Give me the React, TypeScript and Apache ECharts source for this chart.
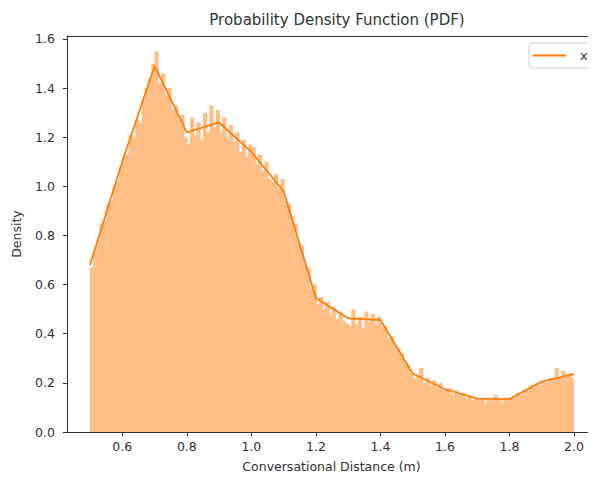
import React, { useEffect, useRef } from "react";
import * as echarts from "echarts";

// Histogram: bins of width 0.01 starting at 0.5 (density per bin)
const binStart = 0.5;
const binWidth = 0.01;
const binDensity = [
  0.67, 0.74, 0.78, 0.85, 0.86, 0.93, 0.94, 1.0, 1.02, 1.08,
  1.12, 1.13, 1.21, 1.2, 1.27, 1.26, 1.35, 1.4, 1.44, 1.5,
  1.55, 1.42, 1.46, 1.37, 1.4, 1.31, 1.33, 1.27, 1.29, 1.2,
  1.17, 1.28, 1.21, 1.26, 1.19, 1.3, 1.22, 1.33, 1.24, 1.31,
  1.22, 1.28, 1.2, 1.25, 1.18, 1.22, 1.14, 1.19, 1.12, 1.17,
  1.16, 1.09, 1.13, 1.06, 1.1, 1.03, 1.02, 1.05, 0.99, 1.03,
  0.94, 0.93, 0.88, 0.85, 0.77, 0.76, 0.68, 0.67, 0.58, 0.6,
  0.52, 0.55, 0.5, 0.53, 0.48, 0.51, 0.46, 0.49, 0.45, 0.44,
  0.43, 0.5, 0.44, 0.47, 0.42, 0.49, 0.45, 0.48, 0.44, 0.47,
  0.43, 0.43, 0.38, 0.39, 0.35, 0.34, 0.32, 0.28, 0.27, 0.24,
  0.22, 0.23, 0.26, 0.2, 0.22, 0.19, 0.21, 0.18, 0.2, 0.17,
  0.17, 0.18, 0.15, 0.17, 0.15, 0.16, 0.14, 0.15, 0.13, 0.14,
  0.13, 0.14, 0.12, 0.14, 0.13, 0.15, 0.13, 0.12, 0.14, 0.13,
  0.14, 0.14, 0.16, 0.15, 0.17, 0.17, 0.19, 0.18, 0.2, 0.19,
  0.21, 0.2, 0.22, 0.21, 0.26, 0.22, 0.25, 0.23, 0.24, 0.22,
];

// PDF line
const pdfX = [0.5, 0.6, 0.7, 0.8, 0.9, 1.0, 1.1, 1.2, 1.3, 1.4, 1.5, 1.6, 1.7, 1.8, 1.9, 2.0];
const pdfY = [0.68, 1.1, 1.49, 1.22, 1.26, 1.14, 0.98, 0.545, 0.463, 0.456, 0.238, 0.174, 0.136, 0.134, 0.205, 0.236];

const xTicks = [0.6, 0.8, 1.0, 1.2, 1.4, 1.6, 1.8, 2.0];
const yTicks = [0.0, 0.2, 0.4, 0.6, 0.8, 1.0, 1.2, 1.4, 1.6];

const FONT = "DejaVu Sans";
const TXT = "#333";
const X_MIN = 0.4287;
const X_MAX = 2.068;

export default function App() {
  const ref = useRef<HTMLDivElement>(null);
  useEffect(() => {
    if (!ref.current) return;
    const chart = echarts.init(ref.current, undefined, { renderer: "svg" });
    const histData = binDensity.map((d, i) => [binStart + i * binWidth, d]);
    const lineData = pdfX.map((x, i) => [x, pdfY[i]]);
    chart.setOption({
      animation: false,
      backgroundColor: "#fff",
      title: {
        text: "Probability Density Function (PDF)",
        left: 332,
        textAlign: "center",
        top: 7,
        textStyle: { fontFamily: FONT, fontSize: 15, fontWeight: "normal", color: TXT },
      },
      legend: {
        data: [{ name: "x", icon: "rect" }],
        left: 529,
        top: 43,
        itemWidth: 33,
        itemHeight: 2,
        padding: [6, 9, 6, 4],
        borderColor: "#d0d0d0",
        borderWidth: 1,
        borderRadius: 3,
        backgroundColor: "rgba(255,255,255,0.8)",
        textStyle: { fontFamily: FONT, fontSize: 13, color: TXT, padding: [0, 0, 0, 9] },
      },
      grid: {
        left: 67,
        top: 36,
        right: 0,
        bottom: 51,
        show: false,
      },
      xAxis: [
        {
          type: "value",
          min: X_MIN,
          max: X_MAX,
          name: "Conversational Distance (m)",
          nameLocation: "middle",
          nameGap: 28,
          nameTextStyle: { fontFamily: FONT, fontSize: 12.5, color: TXT },
          axisLine: { show: true, lineStyle: { color: "#333", width: 1 } },
          axisTick: { show: true, length: 4, customValues: xTicks, lineStyle: { color: "#333" } },
          axisLabel: {
            customValues: xTicks,
            formatter: (v: number) => v.toFixed(1),
            fontFamily: FONT,
            fontSize: 12.5,
            color: TXT,
            margin: 8,
          },
          splitLine: { show: false },
        },
        {
          type: "value",
          position: "top",
          min: X_MIN,
          max: X_MAX,
          axisLine: { show: true, lineStyle: { color: "#333", width: 1 } },
          axisTick: { show: false },
          axisLabel: { show: false },
          splitLine: { show: false },
        },
      ],
      yAxis: {
        type: "value",
        min: 0,
        max: 1.612,
        name: "Density",
        nameLocation: "middle",
        nameGap: 44,
        nameTextStyle: { fontFamily: FONT, fontSize: 12.5, color: TXT },
        axisLine: { show: true, lineStyle: { color: "#333", width: 1 } },
        axisTick: { show: true, length: 4, customValues: yTicks, lineStyle: { color: "#333" } },
        axisLabel: {
          customValues: yTicks,
          formatter: (v: number) => v.toFixed(1),
          fontFamily: FONT,
          fontSize: 12.5,
          color: TXT,
          margin: 12,
        },
        splitLine: { show: false },
      },
      series: [
        {
          type: "custom",
          name: "hist",
          data: histData,
          z: 1,
          renderItem: (params: any, api: any) => {
            const x0 = api.value(0);
            const h = api.value(1);
            const p0 = api.coord([x0, h]);
            const p1 = api.coord([x0 + binWidth, 0]);
            const last = params.dataIndex === binDensity.length - 1;
            return {
              type: "rect",
              shape: {
                x: p0[0],
                y: p0[1],
                width: p1[0] - p0[0] + (last ? 0 : 1),
                height: p1[1] - p0[1],
              },
              style: { fill: "#ffbf87", stroke: null, lineWidth: 0 },
            };
          },
        },
        {
          type: "line",
          name: "x",
          data: lineData,
          z: 3,
          showSymbol: false,
          symbol: "none",
          color: "#ff7f0e",
          lineStyle: { color: "#ff7f0e", width: 1.8 },
        },
      ],
    });
    return () => chart.dispose();
  }, []);
  return <div ref={ref} style={{ width: 596, height: 483, margin: -8 }} />;
}
